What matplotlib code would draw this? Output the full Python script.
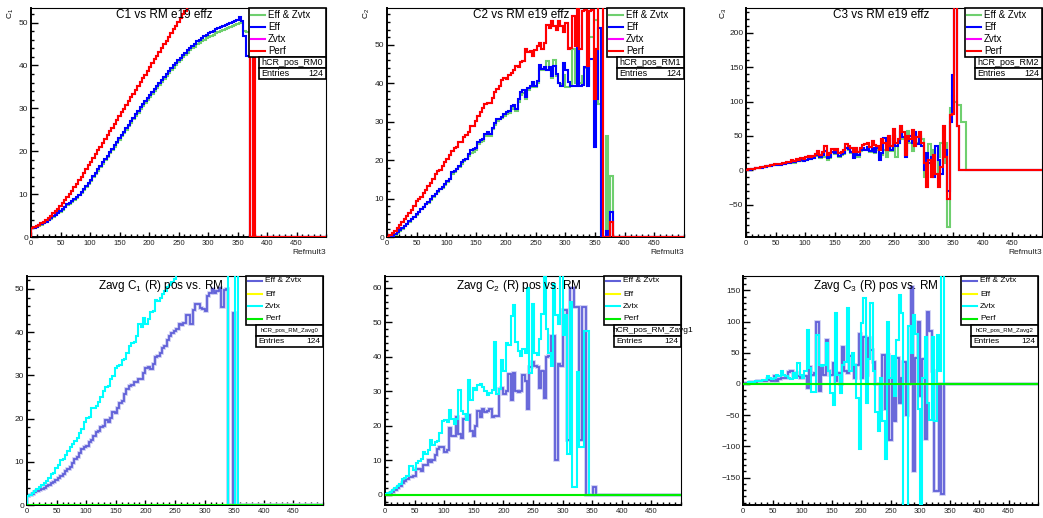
import numpy as np
import matplotlib.pyplot as plt
from matplotlib.patches import Rectangle
from matplotlib.ticker import MultipleLocator

plt.rcParams['font.family'] = ['Liberation Sans', 'DejaVu Sans']
plt.rcParams['mathtext.fontset'] = 'custom'
plt.rcParams['mathtext.rm'] = 'Liberation Sans'
plt.rcParams['mathtext.it'] = 'Liberation Sans:italic'

W, H = 1043, 518
edges = np.arange(0, 504, 4)  # Refmult3 bins, width 4

# ---- C1 vs RM (bins start at 0, 4, 8, ...) ----
c1_perf = [2.2, 2.4, 2.6, 2.9, 3.2, 3.6, 4.0, 4.5, 5.0, 5.5,
           6.0, 6.6, 7.3, 7.9, 8.6, 9.3, 10.0, 10.8, 11.6, 12.4,
           13.3, 14.1, 15.0, 15.9, 16.7, 17.6, 18.5, 19.4, 20.3, 21.1,
           22.0, 22.9, 23.8, 24.7, 25.5, 26.4, 27.3, 28.2, 29.1, 29.9,
           30.8, 31.7, 32.6, 33.4, 34.3, 35.2, 36.1, 37.0, 37.8, 38.7,
           39.6, 40.5, 41.4, 42.2, 43.1, 44.0, 44.9, 45.8, 46.6, 47.5,
           48.4, 49.3, 50.2, 51.0, 51.9, 52.8, 53.7, 54.6, 55.4, 56.3,
           57.2, 58.0, 58.9, 59.7, 60.6, 61.4, 62.3, 63.1, 64.0, 64.8,
           65.6, 66.5, 67.3, 68.1, 69.0, 69.8, 70.6, 71.4, 72.2, 73.0,
           73.8, 74.6, 75.4, 0.0, 76.0]
c1_zvtx = c1_perf
c1_eff = [2.0, 2.2, 2.4, 2.7, 3.0, 3.3, 3.6, 4.0, 4.4, 4.8,
          5.2, 5.6, 6.1, 6.6, 7.1, 7.6, 7.9, 8.4, 8.9, 9.4,
          9.9, 10.5, 11.2, 11.9, 12.6, 13.4, 14.2, 15.0, 15.8, 16.6,
          17.4, 18.2, 19.0, 19.8, 20.6, 21.4, 22.2, 23.0, 23.8, 24.6,
          25.4, 26.2, 27.0, 27.8, 28.6, 29.4, 30.2, 31.0, 31.7, 32.4,
          33.1, 33.8, 34.5, 35.2, 35.9, 36.6, 37.3, 38.0, 38.7, 39.4,
          40.0, 40.6, 41.2, 41.8, 42.4, 43.0, 43.6, 44.1, 44.6, 45.1,
          45.6, 46.0, 46.4, 46.8, 47.2, 47.5, 47.8, 48.1, 48.4, 48.7,
          49.0, 49.2, 49.4, 49.7, 50.0, 50.2, 50.3, 50.5, 51.4, 50.4,
          46.8, 42.1, 42.1]
c1_effz = [2.0, 2.2, 2.4, 2.6, 2.9, 3.2, 3.5, 3.9, 4.3, 4.7,
           5.1, 5.5, 5.9, 6.4, 6.9, 7.4, 7.7, 8.2, 8.7, 9.2,
           9.7, 10.3, 11.0, 11.7, 12.4, 13.1, 13.9, 14.7, 15.5, 16.3,
           17.1, 17.9, 18.7, 19.5, 20.3, 21.1, 21.9, 22.7, 23.5, 24.3,
           25.0, 25.8, 26.6, 27.4, 28.2, 29.0, 29.8, 30.6, 31.3, 32.0,
           32.7, 33.4, 34.1, 34.8, 35.5, 36.2, 36.9, 37.6, 38.3, 38.9,
           39.5, 40.1, 40.7, 41.3, 41.9, 42.4, 43.0, 43.5, 44.0, 44.4,
           44.9, 45.3, 45.7, 46.0, 46.3, 46.6, 46.9, 47.2, 47.5, 47.8,
           48.0, 48.3, 48.5, 48.8, 49.0, 49.2, 49.4, 49.6, 49.8, 50.0,
           48.0, 47.8, 47.8]

# ---- C2 vs RM ----
c2_perf = [0.1, 0.4, 1.0, 1.6, 2.3, 3.0, 3.8, 4.6, 5.4, 6.2,
           7.0, 8.0, 9.3, 9.8, 10.5, 11.5, 12.3, 13.4, 14.0, 15.2,
           16.3, 17.2, 17.4, 18.6, 19.4, 20.2, 21.4, 22.3, 23.1, 23.5,
           24.6, 24.8, 26.0, 26.6, 27.4, 28.9, 29.0, 30.3, 31.4, 32.5,
           33.7, 34.6, 35.0, 34.9, 36.2, 37.7, 38.6, 39.4, 40.8, 41.3,
           41.0, 42.2, 42.8, 43.4, 44.6, 44.3, 45.5, 45.8, 48.8, 48.1,
           48.3, 47.2, 48.6, 49.6, 50.4, 49.0, 50.6, 55.2, 54.3, 56.1,
           55.0, 54.0, 56.3, 55.0, 53.4, 55.6, 49.0, 49.2, 57.4, 49.8,
           62.0, 49.0, 58.8, 59.2, 44.5, 58.9, 59.0, 36.0, 49.0, 62.0,
           62.0, 0.0, 0.0, 0.0, 4.0]
c2_zvtx = c2_perf
c2_eff = [0.0, 0.1, 0.3, 0.7, 1.2, 1.7, 2.3, 2.9, 3.5, 4.1,
          4.7, 5.3, 5.9, 6.6, 7.3, 7.9, 8.7, 9.0, 9.8, 10.6,
          11.3, 11.9, 12.6, 13.0, 13.8, 14.6, 15.2, 16.8, 17.2, 17.8,
          18.5, 19.4, 20.0, 20.4, 21.5, 22.6, 22.8, 23.2, 24.6, 25.2,
          25.5, 26.8, 27.2, 26.8, 28.4, 29.6, 30.6, 30.8, 31.2, 32.0,
          32.5, 32.8, 34.2, 34.4, 33.2, 35.8, 37.8, 38.2, 36.4, 38.8,
          39.4, 40.4, 39.2, 40.6, 44.8, 43.8, 44.2, 43.4, 44.2, 41.8,
          44.6, 42.4, 40.2, 39.4, 45.2, 43.5, 40.4, 39.2, 39.2, 39.4,
          55.0, 39.4, 39.6, 44.2, 39.4, 46.4, 46.4, 23.4, 36.0, 54.5,
          0.0, 0.0, 1.5, 0.0, 6.5]
c2_effz = [0.0, 0.1, 0.3, 0.6, 1.1, 1.6, 2.2, 2.8, 3.4, 4.0,
           4.6, 5.2, 5.8, 6.5, 7.2, 7.8, 8.6, 8.9, 9.7, 10.5,
           11.2, 11.8, 12.5, 12.8, 13.6, 14.4, 15.0, 16.5, 17.0, 17.6,
           18.2, 19.0, 19.8, 20.2, 21.0, 21.8, 22.0, 22.6, 24.2, 24.8,
           25.0, 26.2, 26.6, 26.2, 28.0, 29.2, 30.2, 30.6, 31.0, 31.6,
           32.0, 32.2, 33.4, 33.8, 32.8, 35.2, 37.0, 37.6, 36.0, 38.2,
           39.0, 40.0, 39.0, 40.2, 43.6, 43.4, 44.0, 45.8, 43.8, 41.4,
           46.0, 42.0, 40.0, 39.8, 42.2, 39.0, 39.0, 39.4, 49.0, 40.0,
           46.8, 40.0, 41.8, 44.0, 39.6, 52.0, 52.0, 56.6, 56.6, 34.6,
           0.0, 0.0, 26.2, 0.0, 16.0]

# ---- C3 vs RM ----
c3_perf = [0.5, 1.2, 1.8, 2.5, 3.2, 4.0, 4.6, 5.4, 6.0, 6.8,
           7.5, 8.2, 9.0, 8.6, 9.8, 10.2, 10.8, 12.0, 12.5, 14.5,
           13.2, 16.0, 15.2, 17.4, 16.2, 19.0, 21.5, 19.0, 20.5, 24.0,
           28.0, 22.5, 27.0, 35.0, 22.0, 25.0, 31.0, 29.0, 30.5, 24.5,
           27.0, 30.0, 38.0, 36.0, 32.0, 26.0, 33.0, 27.0, 32.0, 36.5,
           38.5, 40.0, 34.0, 42.0, 37.0, 35.0, 30.0, 45.0, 40.0, 30.0,
           50.0, 35.0, 60.0, 40.0, 45.0, 64.0, 55.0, 22.0, 50.0, 45.0,
           58.0, 35.0, 48.0, 55.0, 40.0, 10.0, -24.0, 15.0, -10.0, 22.0,
           -5.0, -24.0, 5.0, 65.0, 20.0, -42.0, 80.0, 82.0, 260.0, 64.0]
c3_zvtx = c3_perf
c3_eff = [0.3, 0.8, 1.5, 2.2, 2.8, 3.5, 4.0, 4.8, 5.4, 6.0,
          6.6, 7.2, 7.8, 7.5, 8.4, 9.0, 9.2, 10.5, 11.0, 12.0,
          11.5, 13.5, 13.0, 14.5, 14.0, 15.5, 18.0, 17.0, 18.5, 22.0,
          24.0, 19.0, 22.0, 28.0, 18.0, 20.0, 27.0, 25.0, 26.0, 21.0,
          23.0, 25.0, 33.0, 31.0, 26.0, 18.0, 28.0, 22.0, 29.0, 32.0,
          30.0, 34.0, 28.0, 32.0, 26.0, 32.0, 15.0, 25.0, 47.0, 38.0,
          45.0, 30.0, 50.0, 35.0, 40.0, 55.0, 48.0, 20.0, 42.0, 50.0,
          40.0, 56.0, 38.0, 48.0, 35.0, 0.0, 25.0, 10.0, 20.0, -10.0,
          35.0, 15.0, -5.0, 28.0, 30.0, -30.0, 70.0, 138.0, 260.0, 64.0]
c3_effz = [0.3, 0.8, 1.4, 2.0, 2.7, 3.3, 3.9, 4.6, 5.2, 5.8,
           6.4, 7.0, 7.6, 7.4, 8.2, 8.8, 9.0, 10.2, 10.8, 11.8,
           11.2, 13.2, 12.8, 14.2, 13.8, 15.2, 17.5, 16.5, 18.0, 21.0,
           23.0, 18.0, 21.0, 20.0, 15.0, 18.0, 26.0, 24.0, 25.0, 20.0,
           22.0, 24.0, 32.0, 30.0, 25.0, 30.0, 27.0, 20.0, 28.0, 31.0,
           29.0, 33.0, 26.0, 30.0, 25.0, 30.0, 20.0, 22.0, 30.0, 20.0,
           45.0, 28.0, 50.0, 20.0, 40.0, 58.0, 45.0, 30.0, 57.0, 40.0,
           28.0, 52.0, 40.0, 50.0, 45.0, -10.0, 20.0, 38.0, 5.0, 30.0,
           -5.0, 20.0, 40.0, 10.0, 40.0, -83.0, 90.0, 108.0, 100.0, 95.0,
           95.0, 70.0, 70.0]

# ---- Zavg C1 ----
z1_effz = [2.0, 2.3, 2.6, 2.9, 3.2, 3.4, 3.6, 3.9, 4.3, 4.6,
           5.0, 5.4, 5.9, 6.3, 6.8, 7.2, 7.8, 8.4, 8.9, 9.8,
           10.6, 11.2, 12.0, 12.9, 13.4, 13.6, 14.6, 15.0, 15.9, 16.8,
           17.2, 18.0, 18.3, 19.6, 19.2, 20.2, 21.6, 21.2, 22.4, 23.6,
           24.1, 25.6, 26.8, 27.6, 27.8, 28.5, 28.4, 29.2, 29.2, 30.6,
           31.6, 31.9, 31.5, 32.6, 34.2, 34.4, 35.2, 36.4, 36.8, 38.2,
           39.2, 39.9, 40.2, 40.8, 41.9, 41.6, 42.2, 43.9, 43.9, 41.8,
           45.2, 46.6, 46.6, 45.5, 45.4, 44.8, 48.4, 49.0, 50.0, 49.0,
           49.6, 50.2, 45.8, 49.8, 50.0, 0.0, 0.0, 44.5]
z1_eff = [0.0]
z1_zvtx = [2.0, 2.4, 2.8, 3.2, 3.6, 4.1, 4.6, 5.1, 5.6, 6.3,
           7.2, 7.5, 8.6, 9.3, 10.5, 10.6, 11.6, 12.6, 13.4, 14.1,
           14.8, 15.4, 16.6, 17.6, 19.2, 20.2, 20.4, 22.4, 22.4, 23.0,
           23.8, 25.0, 26.4, 27.2, 27.6, 29.2, 29.8, 31.6, 32.2, 32.4,
           33.6, 33.8, 35.2, 36.8, 37.6, 37.8, 39.0, 41.8, 41.2, 43.2,
           41.8, 43.0, 44.6, 44.8, 47.4, 47.2, 48.0, 48.8, 49.6, 50.4,
           51.0, 51.6, 52.4, 53.6, 55.0, 56.2, 57.0, 58.2, 59.0, 60.2,
           61.0, 62.1, 63.0, 63.8, 64.6, 65.4, 66.0, 66.8, 67.4, 68.0,
           68.6, 69.2, 69.8, 70.2, 70.8, 0.0, 0.0, 0.0, 72.0]
z1_perf = [0.0]

# ---- Zavg C2 ----
z2_effz = [0.1, 0.3, 0.6, 1.0, 1.4, 2.0, 2.5, 3.4, 4.0, 4.5,
           5.2, 5.2, 5.5, 7.5, 7.4, 7.0, 8.8, 8.6, 10.0, 9.6,
           10.0, 11.6, 13.4, 14.0, 14.0, 12.4, 13.0, 19.5, 17.0, 17.2,
           22.6, 17.6, 16.6, 22.0, 23.0, 23.2, 18.6, 17.0, 20.0, 24.2,
           22.6, 25.0, 24.0, 24.2, 24.8, 22.6, 23.0, 22.8, 30.6, 31.0,
           29.2, 30.0, 35.0, 27.6, 35.2, 30.0, 29.8, 30.0, 34.6, 33.0,
           25.0, 37.0, 38.5, 37.2, 37.0, 31.0, 36.0, 28.0, 40.0, 40.2,
           46.0, 46.0, 10.0, 38.0, 37.2, 53.5, 53.5, 16.0, 60.0, 60.0,
           54.5, 54.5, 16.0, 54.5, 54.5, 0.0, 0.0, 0.0, 2.2]
z2_eff = [0.0]
z2_zvtx = [0.2, 0.6, 1.0, 1.5, 2.0, 2.5, 3.2, 4.5, 5.0, 5.5,
           8.5, 8.3, 7.2, 9.2, 9.8, 10.5, 12.5, 11.9, 13.0, 16.0,
           14.6, 15.2, 15.6, 18.0, 21.3, 21.6, 21.2, 24.5, 22.0, 20.5,
           22.0, 30.5, 24.2, 23.4, 21.6, 33.2, 27.6, 31.0, 30.4, 31.8,
           32.0, 31.4, 30.2, 29.0, 29.5, 30.4, 44.2, 29.2, 30.6, 39.0,
           36.0, 44.0, 43.5, 51.8, 55.0, 44.2, 41.8, 40.2, 42.2, 41.0,
           60.0, 35.4, 55.2, 41.2, 40.6, 45.2, 52.4, 65.0, 48.0, 41.0,
           37.2, 61.0, 52.2, 49.6, 65.0, 46.2, 52.0, 12.0, 56.0, 2.2,
           2.2, 35.5, 14.0, 14.0, 47.5, 47.5]
z2_perf = [0.0]

# ---- Zavg C3 ----
z3_effz = [0.0, 1.0, 2.0, 2.5, 3.0, 3.5, 4.0, 4.5, 5.0, 5.0,
           8.0, 7.0, 5.0, 12.0, 4.0, 8.0, 10.0, 9.0, 10.0, 19.0,
           20.0, 12.0, 18.0, 12.0, 10.0, 10.0, 12.0, -6.0, 27.0, 15.0,
           17.0, 100.0, -12.0, 28.0, 15.0, 70.0, 20.0, 15.0, 33.0, 5.0,
           18.0, 0.0, 60.0, 20.0, 18.0, 45.0, 28.0, 10.0, 30.0, 80.0,
           10.0, 75.0, 15.0, 73.0, 55.0, 35.0, 0.0, 0.0, -40.0, 47.0,
           -40.0, 47.0, -90.0, 42.0, -60.0, 42.0, -30.0, 10.0, 35.0, -50.0,
           0.0, 155.0, -140.0, 42.0, 100.0, -20.0, 40.0, -88.0, 115.0, 85.0,
           20.0, -172.0, -172.0, 0.0, -177.0, 0.0]
z3_eff = [0.0]
z3_zvtx = [0.0, 0.0, 3.0, 2.0, 3.0, 4.0, 5.0, 5.0, 6.0, 7.0,
           12.0, 10.0, 8.0, 9.0, 15.0, 12.0, 20.0, 15.0, 12.0, 10.0,
           8.0, 18.0, 10.0, 33.0, 15.0, 10.0, 20.0, 87.0, 25.0, -13.0,
           -13.0, 78.0, 30.0, 28.0, 30.0, 65.0, 20.0, -15.0, -33.0, 113.0,
           15.0, -15.0, 30.0, 35.0, 121.0, 20.0, 50.0, 30.0, -22.0, -104.0,
           98.0, 137.0, -30.0, 40.0, 130.0, 20.0, -45.0, -75.0, 10.0, -60.0,
           -120.0, 100.0, 10.0, 45.0, -20.0, 70.0, 142.0, 113.0, -250.0, -250.0,
           93.0, 50.0, 110.0, 80.0, -40.0, -250.0, 10.0, 75.0, -30.0, -57.0,
           75.0, -60.0, 78.0, 20.0, 180.0, 0.0]
z3_perf = [0.0]

top_labels = ['Eff & Zvtx', 'Eff', 'Zvtx', 'Perf']
top_colors = ['#6fcf6f', '#0000ff', '#ff00ff', '#ff0000']
bot_colors = ['#6060d8', '#ffff00', '#00ffff', '#00ee00']


def full(v):
    out = np.zeros(len(edges) - 1)
    out[:len(v)] = v
    return out


fig = plt.figure(figsize=(W / 100, H / 100), dpi=100)
over = None

panels = [
    dict(box=(31, 8, 326, 237), ylim=(0, 53.4), maj=10, mnr=2,
         data=[c1_effz, c1_eff, c1_zvtx, c1_perf], top=True,
         title='C1 vs RM e19 effz', tpos=(164, 15), ylab=r'C$_{1}$', ypos=11,
         stat='hCR_pos_RM0'),
    dict(box=(387, 8, 684, 237), ylim=(0, 59.6), maj=10, mnr=2,
         data=[c2_effz, c2_eff, c2_zvtx, c2_perf], top=True,
         title='C2 vs RM e19 effz', tpos=(521, 15), ylab=r'C$_{2}$', ypos=367,
         stat='hCR_pos_RM1'),
    dict(box=(746, 8, 1042, 237), ylim=(-97, 236), maj=50, mnr=10,
         data=[c3_effz, c3_eff, c3_zvtx, c3_perf], top=True,
         title='C3 vs RM e19 effz', tpos=(881, 15), ylab=r'C$_{3}$', ypos=724,
         stat='hCR_pos_RM2'),
    dict(box=(27, 276, 323, 505), ylim=(0, 53), maj=10, mnr=2,
         data=[z1_effz, z1_eff, z1_zvtx, z1_perf], top=False,
         title=r'Zavg C$_{1}$ (R) pos vs. RM', tpos=(161, 286),
         stat='hCR_pos_RM_Zavg0'),
    dict(box=(385, 276, 681, 505), ylim=(-2.9, 63.4), maj=10, mnr=2,
         data=[z2_effz, z2_eff, z2_zvtx, z2_perf], top=False,
         title=r'Zavg C$_{2}$ (R) pos vs. RM', tpos=(519, 286),
         stat='hCR_pos_RM_Zavg1'),
    dict(box=(743, 276, 1038, 505), ylim=(-194, 173), maj=50, mnr=10,
         data=[z3_effz, z3_eff, z3_zvtx, z3_perf], top=False,
         title=r'Zavg C$_{3}$ (R) pos vs. RM', tpos=(876, 286),
         stat='hCR_pos_RM_Zavg2'),
]

axes = []
for p in panels:
    x0, y0, x1, y1 = p['box']
    ax = fig.add_axes([x0 / W, 1 - y1 / H, (x1 - x0) / W, (y1 - y0) / H])
    colors = top_colors if p['top'] else bot_colors
    for i, (vals, col) in enumerate(zip(p['data'], colors)):
        if not p['top'] and i == 0:
            ax.stairs(full(vals), edges, color='#c8c8f2', lw=2.6, zorder=2)
            ax.stairs(full(vals), edges, color=col, lw=1.3, zorder=2)
        else:
            ax.stairs(full(vals), edges, color=col, lw=1.5, zorder=2 + i)
    ax.set_xlim(0, 500)
    ax.set_ylim(*p['ylim'])
    ax.set_xticks(np.arange(0, 451, 50))
    ax.xaxis.set_minor_locator(MultipleLocator(10))
    ax.yaxis.set_major_locator(MultipleLocator(p['maj']))
    ax.yaxis.set_minor_locator(MultipleLocator(p['mnr']))
    ax.tick_params(which='both', direction='in', top=False, right=False,
                   width=1.0, labelcolor='#222222')
    ax.tick_params(axis='x', which='major', length=3.6, labelsize=5.5, pad=2)
    ax.tick_params(axis='x', which='minor', length=2.0)
    ax.tick_params(axis='y', which='major', length=5.0, labelsize=6, pad=2)
    ax.tick_params(axis='y', which='minor', length=2.5)
    for s in ['left', 'bottom']:
        ax.spines[s].set_linewidth(1.4)
    for s in ['top', 'right']:
        ax.spines[s].set_linewidth(0.8)
    axes.append(ax)

over = fig.add_axes([0, 0, 1, 1], zorder=10)
over.set_xlim(0, W)
over.set_ylim(H, 0)
over.axis('off')

for p in panels:
    x0, y0, x1, y1 = p['box']
    R, T = x1, y0
    top = p['top']
    colors = top_colors if top else bot_colors
    fs = 7 if top else 6
    # legend box
    over.add_patch(Rectangle((R - 77, T), 77, 49, fc='white', ec='black', lw=1.2))
    rows = [7, 19, 31, 43] if top else [5, 18, 30, 43]
    for lab, col, dy in zip(top_labels, colors, rows):
        over.plot([R - 75, R - 61], [T + dy, T + dy], color=col, lw=1.5)
        over.text(R - 58, T + dy, lab, fontsize=fs, va='center', ha='left')
    # stats boxes
    over.add_patch(Rectangle((R - 67, T + 49), 67, 11, fc='white', ec='black', lw=1.2))
    over.add_patch(Rectangle((R - 67, T + 60), 67, 11, fc='white', ec='black', lw=1.2))
    if top:
        over.text(R - 65, T + 54.5, p['stat'], fontsize=6.5, va='center', ha='left')
    elif p['stat'].endswith('1'):
        clip = Rectangle((R - 67, T + 49), 67, 11, transform=over.transData)
        t = over.text(R - 69, T + 54.5, p['stat'], fontsize=6, va='center', ha='left')
        t.set_clip_path(clip)
    else:
        over.text(R - 33.5, T + 54.5, p['stat'], fontsize=4.3, va='center', ha='center')
    over.text(R - 65, T + 65.5, 'Entries', fontsize=6.5 if top else 6, va='center', ha='left')
    over.text(R - 3, T + 65.5, '124', fontsize=6.5 if top else 6, va='center', ha='right')
    # title
    over.text(p['tpos'][0], p['tpos'][1], p['title'], fontsize=8.5, ha='center', va='center')
    if top:
        over.text(p['ypos'], 8, p['ylab'], fontsize=6, rotation=90, ha='center', va='top')
        over.text(R, 252, 'Refmult3', fontsize=6, ha='right', va='center', color='#222222')

fig.savefig('out.png', dpi=100)
